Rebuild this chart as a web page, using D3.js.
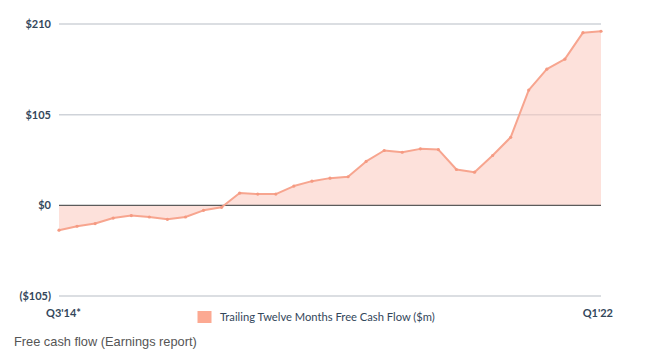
<!DOCTYPE html>
<html>
<head>
<meta charset="utf-8">
<script src="https://cdn.jsdelivr.net/npm/d3@7/dist/d3.min.js"></script>
<style>
  html, body { margin: 0; padding: 0; background: #fff; }
  svg { display: block; }
</style>
</head>
<body>
<svg id="chart" width="651" height="360"></svg>
<script>
const quarters = ["Q3'14","Q4'14","Q1'15","Q2'15","Q3'15","Q4'15","Q1'16","Q2'16","Q3'16","Q4'16",
  "Q1'17","Q2'17","Q3'17","Q4'17","Q1'18","Q2'18","Q3'18","Q4'18","Q1'19","Q2'19",
  "Q3'19","Q4'19","Q1'20","Q2'20","Q3'20","Q4'20","Q1'21","Q2'21","Q3'21","Q4'21","Q1'22"];
const fcf = [-28.8,-24.2,-21.1,-14.7,-11.9,-13.5,-16.2,-13.5,-5.8,-2.3,
  14.2,13.0,13.0,22.3,28.0,31.5,33.1,50.8,63.5,61.5,
  65.4,64.6,41.5,38.4,57.7,78.8,133.5,157.7,169.3,200.0,201.6];
const yTicks = [-105, 0, 105, 210];
const yTickLabels = ["($105)", "$0", "$105", "$210"];
const xEndLabels = ["Q3'14*", "Q1'22"];
const legendLabel = "Trailing Twelve Months Free Cash Flow ($m)";
const footer = "Free cash flow (Earnings report)";

(function () {
const svg = d3.select("#chart");
const mLeft = 59, mRight = 601, mTop = 24, mBottom = 296;

const x = d3.scalePoint().domain(quarters).range([mLeft, mRight]);
const y = d3.scaleLinear().domain([-105, 210]).range([mBottom, mTop]);

// gridlines
svg.append("g").selectAll("line").data(yTicks.filter(d => d !== 0)).join("line")
  .attr("x1", mLeft).attr("x2", mRight)
  .attr("y1", d => y(d)).attr("y2", d => y(d))
  .attr("stroke", "#cfd3d9").attr("stroke-width", 1.5);

// y labels
svg.append("g").selectAll("text").data(yTicks).join("text")
  .attr("x", 51).attr("y", d => y(d)).attr("dy", "0.35em")
  .attr("text-anchor", "end")
  .attr("font-family", "Lato, 'Open Sans', sans-serif")
  .attr("font-weight", 700).attr("font-size", 11)
  .attr("fill", "#33475b")
  .text((d, i) => yTickLabels[i]);

// area
const area = d3.area()
  .x((d, i) => x(quarters[i]))
  .y0(y(0))
  .y1(d => y(d));
svg.append("path").datum(fcf)
  .attr("d", area)
  .attr("fill", "#fcc9bd").attr("fill-opacity", 0.55);

// zero line
svg.append("line")
  .attr("x1", mLeft).attr("x2", mRight)
  .attr("y1", y(0)).attr("y2", y(0))
  .attr("stroke", "#5b5b5b").attr("stroke-width", 1.2);

// line
const line = d3.line()
  .x((d, i) => x(quarters[i]))
  .y(d => y(d));
svg.append("path").datum(fcf)
  .attr("d", line)
  .attr("fill", "none")
  .attr("stroke", "#f7a58f").attr("stroke-width", 2)
  .attr("stroke-linejoin", "round");

svg.append("g").selectAll("circle").data(fcf).join("circle")
  .attr("cx", (d, i) => x(quarters[i])).attr("cy", d => y(d))
  .attr("r", 1.6).attr("fill", "#f59a82");

// x end labels
svg.append("text").attr("x", x(quarters[0]) - 13).attr("y", 317)
  .attr("font-family", "Lato, 'Open Sans', sans-serif")
  .attr("font-weight", 700).attr("font-size", 11).attr("fill", "#33475b")
  .text(xEndLabels[0]);
svg.append("text").attr("x", x(quarters[quarters.length - 1]) + 12).attr("y", 317)
  .attr("text-anchor", "end")
  .attr("font-family", "Lato, 'Open Sans', sans-serif")
  .attr("font-weight", 700).attr("font-size", 11).attr("fill", "#33475b")
  .text(xEndLabels[1]);

// legend
svg.append("rect").attr("x", 197.5).attr("y", 311).attr("width", 14).attr("height", 12)
  .attr("fill", "#fca992");
svg.append("text").attr("x", 220).attr("y", 317).attr("dy", "0.35em")
  .attr("font-family", "Lato, 'Open Sans', sans-serif")
  .attr("font-size", 11.2).attr("fill", "#33475b")
  .text(legendLabel);

// footer
svg.append("text").attr("x", 14).attr("y", 346)
  .attr("font-family", "'Liberation Sans', Arial, sans-serif")
  .attr("font-size", 12.8).attr("fill", "#555")
  .text(footer);
})();
</script>
</body>
</html>
